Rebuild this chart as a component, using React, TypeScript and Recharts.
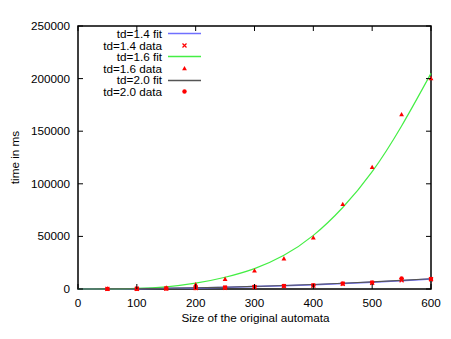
import {
  ComposedChart,
  Line,
  Scatter,
  XAxis,
  YAxis,
  ReferenceArea,
  Legend,
  Label,
} from "recharts";

// automata sizes where measurements were taken
const sizes = [50, 100, 150, 200, 250, 300, 350, 400, 450, 500, 550, 600];
// measured times (ms)
const td14Data = [50, 200, 400, 800, 1200, 1800, 2700, 3200, 4800, 5800, 8300, 9300];
const td16Data = [100, 300, 1200, 4300, 9300, 17300, 28800, 48700, 80400, 115700, 165800, 200100];
const td20Data = [80, 250, 500, 1000, 1500, 2100, 3000, 3600, 5200, 6200, 10000, 9600];

// fitted curves
const fitSizes = [0, 50, 100, 150, 200, 250, 300, 350, 400, 450, 500, 550, 600];
const td14Fit = [0, 80, 270, 600, 1050, 1600, 2300, 3100, 4100, 5200, 6500, 7900, 9400];
const td16Fit = [0, 60, 550, 2100, 5500, 11200, 19400, 32000, 51000, 77500, 111500, 155000, 205000];
const td20Fit = [0, 90, 300, 650, 1120, 1720, 2450, 3300, 4300, 5450, 6750, 8200, 9800];

const xTicks = [0, 100, 200, 300, 400, 500, 600];
const yTicks = [0, 50000, 100000, 150000, 200000, 250000];

const FONT = '"Liberation Sans", Arial, Helvetica, sans-serif';
const FS = 11.7;
const BLUE = "#7070ff";
const GREEN = "#44ee44";
const GRAY = "#555555";
const RED = "#ff0000";
const PLOT_W = 353;
const PLOT_H = 263;

const toRows = (xs: number[], ys: number[]) => xs.map((x, i) => ({ x, y: ys[i] }));

const XTick = ({ x, y, payload }: any) => (
  <g>
    <line x1={x} y1={y} x2={x} y2={y - 5} stroke="#000" />
    <line x1={x} y1={y - PLOT_H} x2={x} y2={y - PLOT_H + 5} stroke="#000" />
    <text x={x} y={y + 17.5} textAnchor="middle" fontFamily={FONT} fontSize={FS} fill="#000">
      {payload.value}
    </text>
  </g>
);

const YTick = ({ x, y, payload }: any) => (
  <g>
    <line x1={x} y1={y} x2={x + 5} y2={y} stroke="#000" />
    <line x1={x + PLOT_W} y1={y} x2={x + PLOT_W - 5} y2={y} stroke="#000" />
    <text x={x - 8} y={y + 4} textAnchor="end" fontFamily={FONT} fontSize={FS} fill="#000">
      {payload.value}
    </text>
  </g>
);

const CrossShape = ({ cx, cy }: any) => (
  <path
    d={`M${cx - 2},${cy - 2}L${cx + 2},${cy + 2}M${cx - 2},${cy + 2}L${cx + 2},${cy - 2}`}
    stroke={RED}
    strokeWidth={1.2}
  />
);

const TriShape = ({ cx, cy }: any) => (
  <path d={`M${cx},${cy - 2.6}L${cx + 2.4},${cy + 1.7}L${cx - 2.4},${cy + 1.7}Z`} fill={RED} />
);

const DotShape = ({ cx, cy }: any) => <circle cx={cx} cy={cy} r={2.2} fill={RED} />;

const LEGEND = [
  { label: "td=1.4 fit", kind: "line", color: BLUE },
  { label: "td=1.4 data", kind: "cross", color: RED },
  { label: "td=1.6 fit", kind: "line", color: GREEN },
  { label: "td=1.6 data", kind: "tri", color: RED },
  { label: "td=2.0 fit", kind: "line", color: GRAY },
  { label: "td=2.0 data", kind: "dot", color: RED },
];

const renderLegend = () => (
  <div style={{ fontFamily: FONT, fontSize: FS, color: "#000" }}>
    {LEGEND.map((item) => (
      <div key={item.label} style={{ display: "flex", alignItems: "center", height: 11.6 }}>
        <span style={{ width: 82, textAlign: "right", lineHeight: "11.6px" }}>{item.label}</span>
        <svg width={40} height={11} style={{ marginLeft: 6, display: "block" }}>
          {item.kind === "line" && (
            <line x1={0} y1={5.5} x2={33} y2={5.5} stroke={item.color} strokeWidth={1.5} />
          )}
          {item.kind === "cross" && <CrossShape cx={16.5} cy={5.5} />}
          {item.kind === "tri" && <TriShape cx={16.5} cy={5.5} />}
          {item.kind === "dot" && <DotShape cx={16.5} cy={5.5} />}
        </svg>
      </div>
    ))}
  </div>
);

export default function App() {
  return (
    <div style={{ position: "absolute", left: 0, top: 0, width: 451, height: 339, background: "#fff" }}>
      <ComposedChart width={451} height={339} margin={{ top: 26, right: 20, bottom: 0, left: 0 }}>
        <XAxis
          dataKey="x"
          type="number"
          domain={[0, 600]}
          ticks={xTicks}
          interval={0}
          height={50}
          tickSize={0}
          tickMargin={0}
          tickLine={false}
          axisLine={false}
          tick={<XTick />}
        >
          <Label
            content={({ viewBox }: any) => (
              <text
                x={viewBox.x + viewBox.width / 2 + 1}
                y={viewBox.y + 33}
                textAnchor="middle"
                fontFamily={FONT}
                fontSize={FS}
                fill="#000"
              >
                Size of the original automata
              </text>
            )}
          />
        </XAxis>
        <YAxis
          type="number"
          domain={[0, 250000]}
          ticks={yTicks}
          interval={0}
          width={78}
          tickSize={0}
          tickMargin={0}
          tickLine={false}
          axisLine={false}
          tick={<YTick />}
        >
          <Label
            content={({ viewBox }: any) => {
              const cx = 14;
              const cy = viewBox.y + viewBox.height / 2;
              return (
                <text
                  x={cx}
                  y={cy}
                  transform={`rotate(-90 ${cx} ${cy})`}
                  textAnchor="middle"
                  dominantBaseline="central"
                  fontFamily={FONT}
                  fontSize={FS}
                  fill="#000"
                >
                  time in ms
                </text>
              );
            }}
          />
        </YAxis>
        <ReferenceArea x1={0} x2={600} y1={0} y2={250000} fill="none" fillOpacity={0} stroke="#000" strokeWidth={1.5} />
        <Line
          data={toRows(fitSizes, td14Fit)}
          dataKey="y"
          type="monotone"
          stroke={BLUE}
          strokeWidth={1.5}
          dot={false}
          activeDot={false}
          isAnimationActive={false}
        />
        <Scatter data={toRows(sizes, td14Data)} dataKey="y" shape={<CrossShape />} isAnimationActive={false} />
        <Line
          data={toRows(fitSizes, td16Fit)}
          dataKey="y"
          type="natural"
          stroke={GREEN}
          strokeWidth={1.2}
          dot={false}
          activeDot={false}
          isAnimationActive={false}
        />
        <Scatter data={toRows(sizes, td16Data)} dataKey="y" shape={<TriShape />} isAnimationActive={false} />
        <Line
          data={toRows(fitSizes, td20Fit)}
          dataKey="y"
          type="monotone"
          stroke={GRAY}
          strokeWidth={1.1}
          dot={false}
          activeDot={false}
          isAnimationActive={false}
        />
        <Scatter data={toRows(sizes, td20Data)} dataKey="y" shape={<DotShape />} isAnimationActive={false} />
        <Legend
          layout="vertical"
          align="center"
          verticalAlign="middle"
          content={renderLegend}
          wrapperStyle={{ left: 80, top: 28, width: 130, height: 72 }}
        />
      </ComposedChart>
    </div>
  );
}
